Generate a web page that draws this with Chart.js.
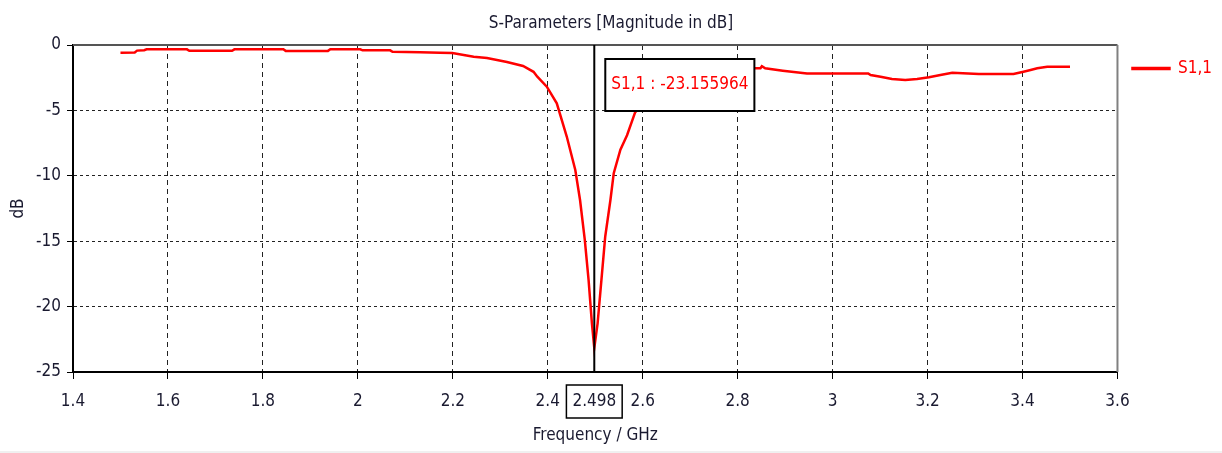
<!DOCTYPE html>
<html>
<head>
<meta charset="utf-8">
<script src="https://cdn.jsdelivr.net/npm/chart.js@4.4.0/dist/chart.umd.min.js"></script>
<style>
  html, body { margin: 0; padding: 0; background: #f0f0f0; overflow: hidden; }
  #wrap { width: 1222px; height: 451px; background: #fff; }
</style>
</head>
<body>
<div id="wrap"><canvas id="sparam" width="1222" height="451"></canvas></div>
<script>
// S1,1 (GHz / dB)
const freqGHz = [
  1.500, 1.530, 1.535, 1.550, 1.555, 1.640, 1.645, 1.735, 1.740, 1.843,
  1.848, 1.937, 1.942, 2.005, 2.010, 2.068, 2.073, 2.131, 2.173, 2.199,
  2.244, 2.272, 2.314, 2.348, 2.370, 2.378, 2.398, 2.419, 2.440, 2.458,
  2.468, 2.478, 2.486, 2.493, 2.498, 2.505, 2.513, 2.521, 2.532, 2.539,
  2.553, 2.567, 2.584, 2.600, 2.620, 2.650, 2.700, 2.750, 2.814, 2.848,
  2.851, 2.858, 2.895, 2.946, 3.075, 3.080, 3.101, 3.125, 3.153, 3.178,
  3.203, 3.227, 3.252, 3.308, 3.381, 3.402, 3.417, 3.431, 3.452, 3.500
];
const s11dB = [
  -0.59, -0.57, -0.43, -0.40, -0.33, -0.33, -0.44, -0.44, -0.33, -0.33,
  -0.45, -0.45, -0.33, -0.33, -0.41, -0.41, -0.52, -0.55, -0.59, -0.62,
  -0.89, -1.00, -1.30, -1.60, -2.05, -2.42, -3.19, -4.46, -7.00, -9.56,
  -11.85, -14.90, -17.97, -21.28, -23.156, -21.28, -17.97, -14.66, -11.85, -9.80,
  -8.00, -6.90, -5.15, -4.50, -3.70, -2.90, -2.25, -1.95, -1.78, -1.78,
  -1.62, -1.78, -1.96, -2.17, -2.17, -2.29, -2.42, -2.60, -2.68, -2.60,
  -2.47, -2.29, -2.12, -2.22, -2.22, -2.04, -1.91, -1.78, -1.66, -1.66
];

const seriesName = "S1,1";
const chartTitle = "S-Parameters [Magnitude in dB]";
const xTitle = "Frequency / GHz";
const yTitle = "dB";
const xMin = 1.4, xMax = 3.6, xStep = 0.2;
const yMin = -25, yMax = 0, yStep = 5;
const markerFreq = 2.498;
const markerValue = -23.155964;

const fontFamily = "'DejaVu Sans Condensed', 'DejaVu Sans', sans-serif";
const fontSize = 17;
const textColor = "#1a1a30";
const font = { family: fontFamily, size: fontSize, weight: "normal" };

// frame top/right, marker line, value box and x readout
const markerPlugin = {
  id: "marker",
  afterDatasetsDraw(chart) {
    const { ctx, chartArea, scales } = chart;
    const x = scales.x.getPixelForValue(markerFreq);
    ctx.save();

    ctx.lineWidth = 2;
    ctx.strokeStyle = "#555";
    ctx.beginPath();
    ctx.moveTo(chartArea.left, chartArea.top);
    ctx.lineTo(chartArea.right, chartArea.top);
    ctx.stroke();
    ctx.strokeStyle = "#808080";
    ctx.beginPath();
    ctx.moveTo(chartArea.right, chartArea.top);
    ctx.lineTo(chartArea.right, chartArea.bottom);
    ctx.stroke();

    ctx.strokeStyle = "#000";
    ctx.beginPath();
    ctx.moveTo(x, chartArea.top);
    ctx.lineTo(x, chartArea.bottom);
    ctx.stroke();

    ctx.font = fontSize + "px " + fontFamily;
    ctx.textBaseline = "middle";
    const label = seriesName + " : " + markerValue.toFixed(6);
    const bw = ctx.measureText(label).width + 12;
    const bx = x + 11, by = chartArea.top + 14, bh = 52;
    ctx.fillStyle = "#fff";
    ctx.fillRect(bx, by, bw, bh);
    ctx.strokeRect(bx, by, bw, bh);
    ctx.fillStyle = "#ff0000";
    ctx.fillText(label, bx + 6, by + bh / 2);

    const xl = markerFreq.toFixed(3);
    const xw = ctx.measureText(xl).width + 12;
    const xy = chartArea.bottom + 13, xh = 33;
    ctx.lineWidth = 1.5;
    ctx.fillStyle = "#fff";
    ctx.fillRect(x - xw / 2, xy, xw, xh);
    ctx.strokeRect(x - xw / 2, xy, xw, xh);
    ctx.fillStyle = textColor;
    ctx.textAlign = "center";
    ctx.fillText(xl, x, xy + xh / 2);
    ctx.restore();
  }
};

new Chart(document.getElementById("sparam").getContext("2d"), {
  type: "line",
  data: {
    datasets: [{
      label: seriesName,
      data: freqGHz.map((f, i) => ({ x: f, y: s11dB[i] })),
      borderColor: "#ff0000",
      backgroundColor: "#ff0000",
      borderWidth: 2.5,
      pointRadius: 0,
      tension: 0,
      fill: false
    }]
  },
  options: {
    responsive: false,
    animation: false,
    devicePixelRatio: 1,
    events: [],
    layout: { padding: { top: 0, left: 0, right: 0, bottom: 0 } },
    plugins: {
      title: {
        display: true,
        text: chartTitle,
        color: textColor,
        font: font,
        padding: { top: 13, bottom: 11.6 }
      },
      legend: {
        position: "right",
        align: "start",
        fullSize: false,
        labels: {
          boxWidth: 37,
          boxHeight: 1,
          padding: 15,
          color: "#ff0000",
          font: font
        }
      },
      tooltip: { enabled: false }
    },
    scales: {
      x: {
        type: "linear",
        min: xMin,
        max: xMax,
        afterFit(scale) { scale.height = 79; },
        ticks: {
          stepSize: xStep,
          color: textColor,
          font: font,
          padding: 12,
          maxRotation: 0,
          callback: v => String(Number(v.toFixed(1)))
        },
        grid: { color: "#222", tickColor: "#000", tickLength: 7 },
        border: { color: "#000", width: 2, dash: [5, 4] },
        title: { display: true, text: xTitle, color: textColor, font: font, padding: { top: 0, bottom: 5 } }
      },
      y: {
        min: yMin,
        max: yMax,
        afterFit(scale) { scale.width = 73; },
        ticks: { stepSize: yStep, color: textColor, font: font, padding: 6 },
        grid: { color: "#222", tickColor: "#000", tickLength: 6 },
        border: { color: "#000", width: 2, dash: [3, 3] },
        title: { display: true, text: yTitle, color: textColor, font: font, padding: { top: 8, bottom: 0 } }
      }
    }
  },
  plugins: [markerPlugin]
});
</script>
</body>
</html>
